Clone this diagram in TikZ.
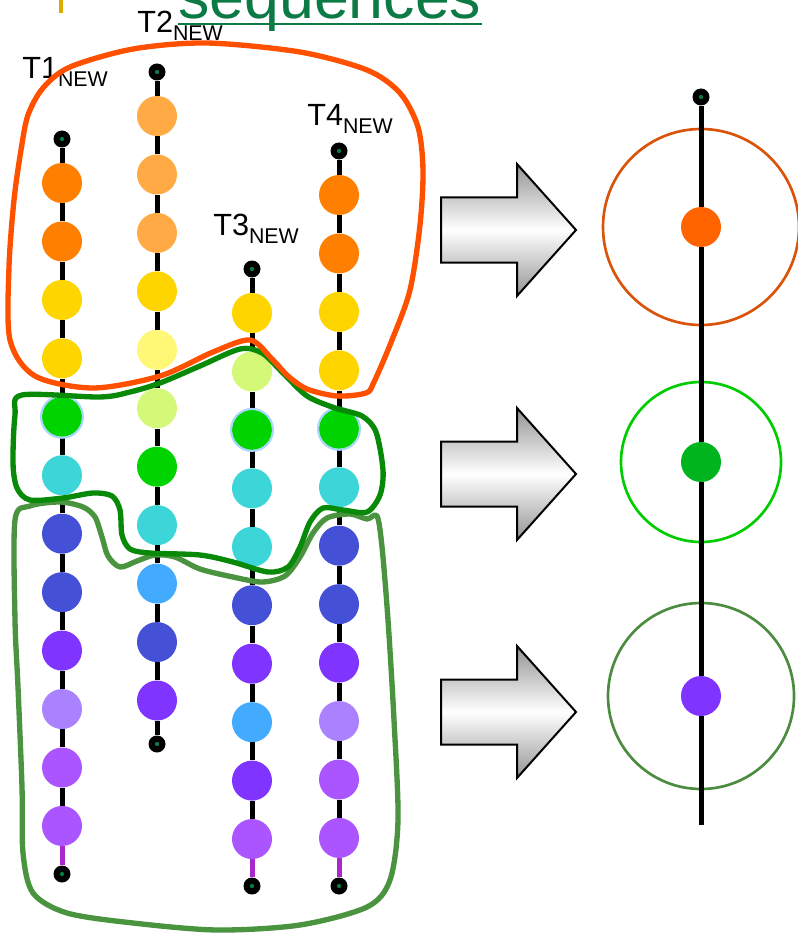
\documentclass[tikz,border=0pt]{standalone}
\usepackage{fontspec}
\setmainfont{Liberation Sans}

\definecolor{corange}{HTML}{FF8000}
\definecolor{clorange}{HTML}{FFAA44}
\definecolor{cyellow}{HTML}{FFD500}
\definecolor{clyellow}{HTML}{FFF877}
\definecolor{clime}{HTML}{D4F877}
\definecolor{cgreen}{HTML}{00D400}
\definecolor{ccyan}{HTML}{3DD6D8}
\definecolor{cblue}{HTML}{4450D6}
\definecolor{csky}{HTML}{42ABFF}
\definecolor{cviolet}{HTML}{7F35FF}
\definecolor{clilac}{HTML}{AA82FF}
\definecolor{cmauve}{HTML}{AA55FF}
\definecolor{ctail}{HTML}{A828CC}
\definecolor{cring}{HTML}{A8D4FF}
\definecolor{cpin}{HTML}{0A7A45}
\definecolor{cseq}{HTML}{0B7A45}
\definecolor{cbullet}{HTML}{DDAA00}
\definecolor{blobred}{HTML}{FF5000}
\definecolor{blobgreen}{HTML}{088A08}
\definecolor{blobmoss}{HTML}{4A9440}
\definecolor{ringred}{HTML}{D9540A}
\definecolor{ringgreen}{HTML}{00CC00}
\definecolor{ringmoss}{HTML}{4C8C40}
\definecolor{dotred}{HTML}{FF6400}
\definecolor{dotgreen}{HTML}{00B41E}

\newcommand{\tnew}[1]{T#1\raisebox{-6pt}{\fontsize{16}{18}\selectfont NEW}}

\begin{document}
\begin{tikzpicture}[x=0.75pt,y=-0.75pt,
    bead/.style={circle,inner sep=0pt,minimum size=30pt,fill=#1},
    termdot/.style={circle,inner sep=0pt,minimum size=12.75pt,fill=black,
      path picture={\fill[cpin] (path picture bounding box.center) circle (1.6pt);}},
    link/.style={draw=#1,line width=3.75pt},
    link/.default=black,
    tlabel/.style={anchor=base west,inner sep=0pt,font=\fontsize{23}{27}\selectfont},
    blob/.style={draw=#1,line width=4pt,line join=round},
    bigring/.style={draw=#1,line width=2pt},
    blockarrow/.style={draw=black,line width=1.5pt,top color=black!42,
      bottom color=black!42,middle color=white}]
  \useasboundingbox (0,0) rectangle (798,934);
  \clip (0,0) rectangle (798,934);

  % Cut-off title line at the top.
  \fill[cbullet] (59,0) rectangle (63,13);
  \node[anchor=base west,inner sep=0pt,text=cseq,font=\fontsize{47}{50}\selectfont]
    (seq) at (178,19) {sequences};
  \draw[cseq,line width=2.2pt] ([yshift=-3.75pt]seq.base west) -- ([yshift=-3.75pt]seq.base east);

  % The four trajectories, bead by bead.
  \foreach \k/\x/\ytop/\ybot/\n/\tc/\cols in {
      1/62/139/874/12/ctail/{corange,corange,cyellow,cyellow,cgreen,ccyan,cblue,cblue,cviolet,clilac,cmauve,cmauve},
      2/157/72/744/11/black/{clorange,clorange,clorange,cyellow,clyellow,clime,cgreen,ccyan,csky,cblue,cviolet},
      3/252/269/886/10/ctail/{cyellow,clime,cgreen,ccyan,ccyan,cblue,cviolet,csky,cviolet,cmauve},
      4/339/151/886/12/ctail/{corange,corange,cyellow,cyellow,cgreen,ccyan,cblue,cblue,cviolet,clilac,cmauve,cmauve}} {
    \node[termdot] (t\k-top) at (\x,\ytop) {};
    \foreach \c [count=\i] in \cols
      \node[bead=\c] (t\k-\i) at (\x,{\ytop+44+(\i-1)*58.45}) {};
    \node[termdot] (t\k-bot) at (\x,\ybot) {};
    \draw[link] (t\k-top) -- (t\k-1);
    \foreach \i [remember=\i as \j (initially 1)] in {2,...,\n}
      \draw[link] (t\k-\j) -- (t\k-\i);
    \draw[link=\tc] (t\k-\n) -- (t\k-bot);
  }
  \foreach \nm in {t1-5,t3-3,t4-5}
    \draw[cring,line width=1.5pt] (\nm) circle (15.75pt);

  \node[tlabel] (l1) at (22,79) {\tnew{1}};
  \node[tlabel] (l2) at (137,33) {\tnew{2}};
  \node[tlabel] (l3) at (213,235) {\tnew{3}};
  \node[tlabel] (l4) at (307,126) {\tnew{4}};

  % Clusters drawn round the beads.
  \draw[blob=blobmoss] plot[smooth cycle] coordinates {
    (15,520) (30,506) (60,502) (83,507) (95,517) (102,537) (108,556) (120,567)
    (137,561) (155,555) (175,557) (200,569) (233,577) (262,582) (285,576)
    (300,557) (313,533) (327,518) (350,514) (367,519) (377,516) (382,547)
    (388,620) (394,720) (398,820) (390,880) (367,907) (300,925) (217,930)
    (133,923) (67,913) (33,893) (23,853) (22,787) (18,687) (15,620)};
  \draw[blob=blobgreen] plot[smooth cycle] coordinates {
    (22,395) (100,397) (130,392) (160,383) (200,366) (240,349) (262,353)
    (283,373) (307,396) (335,408) (362,416) (376,432) (383,470) (380,495)
    (367,512) (343,510) (323,508) (310,522) (300,547) (288,567) (268,572)
    (233,562) (200,555) (150,553) (130,549) (122,535) (120,510) (112,496)
    (93,493) (63,498) (30,500) (17,488) (13,463) (15,415)};
  \draw[blob=blobred] plot[smooth cycle] coordinates {
    (207,43) (300,52) (367,70) (400,93) (418,127) (423,170) (420,225)
    (410,290) (392,340) (374,382) (366,393) (337,396) (307,389) (288,376)
    (272,359) (250,340) (213,352) (160,376) (93,388) (35,376) (10,340)
    (9,267) (14,200) (21,150) (28,115) (43,88) (70,67) (133,49)};

  % Block arrows.
  \foreach \ya in {230,474,712}
    \draw[blockarrow] (441,{\ya-32.5}) -- (517,{\ya-32.5}) -- (517,{\ya-66})
      -- (576,\ya) -- (517,{\ya+66}) -- (517,{\ya+32.5}) -- (441,{\ya+32.5}) -- cycle;

  % Resulting trajectory with cluster representatives.
  \node[termdot] (rtop) at (701,97) {};
  \coordinate (rend) at (701,825);
  \node[bead=dotred] (r1) at (701,227) {};
  \node[bead=dotgreen] (r2) at (701,462) {};
  \node[bead=cviolet] (r3) at (701,696) {};
  \draw[bigring=ringred] (r1) circle (73.5pt);
  \draw[bigring=ringgreen] (r2) circle (60pt);
  \draw[bigring=ringmoss] (r3) circle (69.75pt);
  \draw[link] (rtop) -- (r1) -- (r2) -- (r3) -- (rend);
\end{tikzpicture}
\end{document}
